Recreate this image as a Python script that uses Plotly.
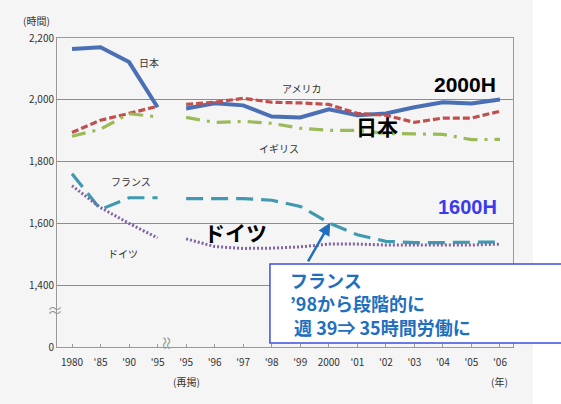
import plotly.graph_objects as go

# ---- data ----
x_labels = ["1980", "'85", "'90", "'95", "'95", "'96", "'97", "'98", "'99",
            "2000", "'01", "'02", "'03", "'04", "'05", "'06"]
x_old = [0, 1, 2, 3]
x_new = [4, 5, 6, 7, 8, 9, 10, 11, 12, 13, 14, 15]

japan_old = [2164, 2170, 2122, 1976]
japan_new = [1972, 1989, 1982, 1946, 1943, 1969, 1950, 1956, 1976, 1992, 1988, 2001]
usa_old = [1894, 1934, 1956, 1979]
usa_new = [1985, 1992, 2005, 1992, 1990, 1985, 1956, 1950, 1927, 1941, 1941, 1963]
uk_old = [1882, 1905, 1955, 1945]
uk_new = [1943, 1927, 1930, 1924, 1908, 1901, 1901, 1891, 1890, 1888, 1871, 1872]
france_old = [1761, 1645, 1683, 1683]
france_new = [1680, 1680, 1680, 1675, 1655, 1602, 1563, 1542, 1538, 1538, 1538, 1540]
germany_old = [1722, 1651, 1600, 1553]
germany_new = [1550, 1525, 1519, 1520, 1524, 1533, 1533, 1530, 1530, 1530, 1530, 1533]

y_tickvals = [1200, 1400, 1600, 1800, 2000, 2200]   # 1200 position shows the "0" after the axis break
y_ticktext = ["0", "1,400", "1,600", "1,800", "2,000", "2,200"]

series = [
    ("日本", japan_old, japan_new, dict(color="#4a6fb5", width=4)),
    ("アメリカ", usa_old, usa_new, dict(color="#c0504d", width=3.2, dash="7px,3px")),
    ("イギリス", uk_old, uk_new, dict(color="#9bbb59", width=3.2, dash="14px,7px,3px,7px")),
    ("フランス", france_old, france_new, dict(color="#3f9aaf", width=3.2, dash="17px,8px")),
    ("ドイツ", germany_old, germany_new, dict(color="#8064a2", width=3, dash="2px,2px")),
]

fig = go.Figure()
for name, old, new, line in series:
    fig.add_trace(go.Scatter(x=x_old, y=old, mode="lines", line=line, name=name,
                             showlegend=False, hoverinfo="skip"))
    fig.add_trace(go.Scatter(x=x_new, y=new, mode="lines", line=line, name=name,
                             showlegend=False, hoverinfo="skip"))

JP = "Noto Sans CJK JP"
small = dict(family=JP, size=10, color="#333333")
big = dict(family=JP, size=21, color="#000000")

annotations = [
    dict(x=2.70, y=2122, text="日本", font=small),
    dict(x=8.07, y=2035, text="アメリカ", font=small),
    dict(x=7.26, y=1841, text="イギリス", font=small),
    dict(x=2.07, y=1734, text="フランス", font=small),
    dict(x=1.79, y=1504, text="ドイツ", font=small),
    dict(x=5.72, y=1572, text="<b>ドイツ</b>", font=big),
    dict(x=10.70, y=1915, text="<b>日本</b>", font=big),
    dict(x=13.79, y=2048, text="<b>2000H</b>",
         font=dict(family="Liberation Sans", size=21, color="#000000")),
    dict(x=13.86, y=1653, text="<b>1600H</b>",
         font=dict(family="Liberation Sans", size=20, color="#3a3aee")),
    dict(x=-0.004, xref="paper", y=1323, text="≈", xanchor="center", yanchor="middle",
         font=dict(family=JP, size=16, color="#999999")),
    dict(x=3.37, y=1212, text="≈", textangle=90, xanchor="center", yanchor="middle",
         font=dict(family=JP, size=16, color="#999999")),
    dict(x=-0.044, xref="paper", y=1.058, yref="paper", text="(時間)",
         xanchor="center", yanchor="middle", font=small),
    dict(x=4, y=-0.113, yref="paper", text="(再掲)", xanchor="center", yanchor="middle",
         font=small),
    dict(x=15, y=-0.113, yref="paper", text="(年)", xanchor="center", yanchor="middle",
         font=small),
    # arrow
    dict(x=9.05, y=1602, ax=-23, ay=40, text="", showarrow=True, arrowhead=2,
         arrowsize=1, arrowwidth=2.5, arrowcolor="#1f6fbf"),
    # callout text
    dict(x=0.5066, y=0.142, xref="paper", yref="paper",
         text="<b>フランス<br>’98から段階的に<br>&nbsp;週 39⇒ 35時間労働に</b>",
         xanchor="left", yanchor="middle", align="left",
         font=dict(family=JP, size=18, color="#1f6fbf")),
]
for a in annotations:
    a.setdefault("showarrow", False)

shapes = [
    dict(type="rect", xref="paper", yref="paper", x0=1.044, x1=1.2, y0=-0.3, y1=1.2,
         fillcolor="#ffffff", line=dict(width=0), layer="below"),
    dict(type="rect", xref="paper", yref="paper", x0=0.467, x1=1.12, y0=0.013, y1=0.269,
         fillcolor="#ffffff", line=dict(color="#3b4fe0", width=1.5), layer="above"),
]

fig.update_layout(
    width=561, height=404,
    margin=dict(l=57, r=48, t=38, b=57),
    paper_bgcolor="#f5f5f5", plot_bgcolor="#f5f5f5",
    annotations=annotations, shapes=shapes,
    xaxis=dict(range=[-0.526, 15.456], tickvals=list(range(len(x_labels))), ticktext=x_labels,
               showgrid=False, zeroline=False, showline=True, linecolor="#999999", linewidth=1,
               mirror=True, ticks="inside", ticklen=3, tickcolor="#999999",
               ticklabelstandoff=6,
               tickfont=dict(family=JP, size=10, color="#333333"), fixedrange=True),
    yaxis=dict(range=[1200, 2200], tickvals=y_tickvals, ticktext=y_ticktext,
               showgrid=True, gridcolor="#8c8c8c", gridwidth=1, zeroline=False,
               showline=True, linecolor="#999999", linewidth=1, mirror=True, ticks="",
               tickfont=dict(family=JP, size=10, color="#333333"), fixedrange=True),
)

fig.write_html("out.html", config={"displayModeBar": False},
               post_script="document.body.style.margin='0';document.body.style.overflow='hidden';")
